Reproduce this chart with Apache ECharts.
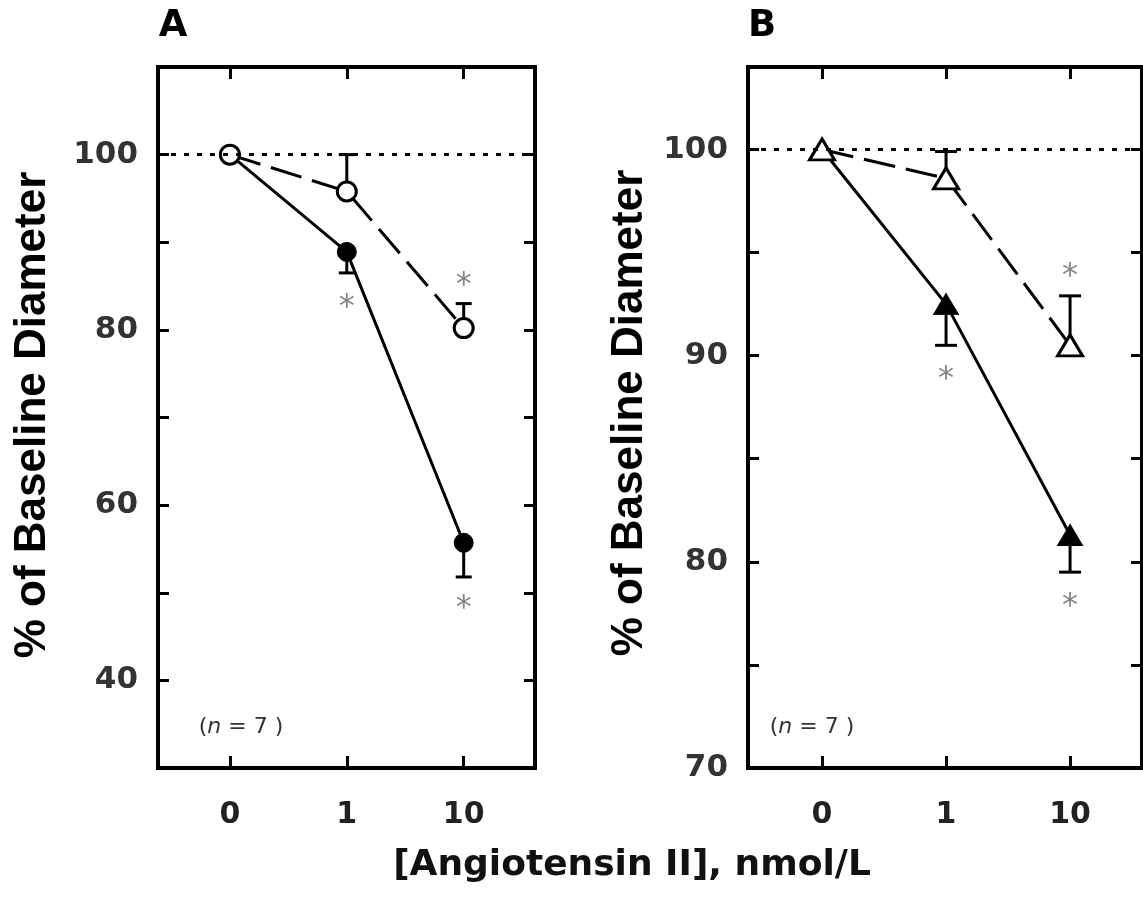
<!DOCTYPE html>
<html>
<head>
<meta charset="utf-8">
<script src="https://cdn.jsdelivr.net/npm/echarts@6/dist/echarts.min.js"></script>
<style>
  html, body { margin: 0; padding: 0; background: #fff; }
  #chart { width: 1143px; height: 898px; }
</style>
</head>
<body>
<div id="chart"></div>
<script>
// dose positions on the x axis and their labels
const doseIdx = [0, 1, 2];
const doseLabels = ['0', '1', '10'];

// panel A: filled circles (solid line), open circles (dashed line)
const aFilled = [100, 88.9, 55.7];
const aFilledErr = [null, 86.5, 51.8];
const aOpen = [100, 95.8, 80.2];
const aOpenErr = [null, 100, 83.0];
const aStars = [[1, 83.5], [2, 85.9], [2, 49.1]];
const aTicksY = [30, 40, 50, 60, 70, 80, 90, 100, 110];
const aLabelsY = [40, 60, 80, 100];

// panel B: filled triangles (solid line), open triangles (dashed line)
const bFilled = [100, 92.5, 81.3];
const bFilledErr = [null, 90.5, 79.5];
const bOpen = [100, 98.6, 90.5];
const bOpenErr = [null, 99.9, 92.9];
const bStars = [[1, 89.2], [2, 94.2], [2, 78.2]];
const bTicksY = [70, 75, 80, 85, 90, 95, 100];
const bLabelsY = [70, 80, 90, 100];

const FONT = 'DejaVu Sans';

const chart = echarts.init(document.getElementById('chart'));

function pts(vals) {
  return doseIdx.map((x, i) => [x, vals[i]]);
}
function errData(vals, ends) {
  return doseIdx.map((x, i) => [x, vals[i], ends[i]]).filter(d => d[2] != null);
}

// one-sided error bar: stem from mean to end, cap at end
function errRender(capW) {
  return function (params, api) {
    const p0 = api.coord([api.value(0), api.value(1)]);
    const p1 = api.coord([api.value(0), api.value(2)]);
    const st = { stroke: '#000', lineWidth: 3 };
    return {
      type: 'group',
      children: [
        { type: 'line', shape: { x1: p0[0], y1: p0[1], x2: p1[0], y2: p1[1] }, style: st },
        { type: 'line', shape: { x1: p1[0] - capW / 2, y1: p1[1], x2: p1[0] + capW / 2, y2: p1[1] }, style: st }
      ]
    };
  };
}

function xAxisDef(gridIndex, min, max, position, showLabel) {
  return {
    type: 'value', gridIndex, min, max, position,
    axisLine: { show: true, onZero: false, lineStyle: { color: '#000', width: 4, cap: 'square' } },
    axisTick: { show: true, inside: true, length: 12, lineStyle: { color: '#000', width: 3 }, customValues: doseIdx },
    axisLabel: {
      show: showLabel, customValues: doseIdx, margin: 32,
      fontFamily: FONT, fontWeight: 'bold', fontSize: 30, color: '#222',
      formatter: v => doseLabels[Math.round(v)]
    },
    splitLine: { show: false }
  };
}

function yAxisDef(gridIndex, min, max, ticks, labels, position, showLabel) {
  return {
    type: 'value', gridIndex, min, max, position,
    axisLine: { show: true, onZero: false, lineStyle: { color: '#000', width: 4, cap: 'square' } },
    axisTick: { show: true, inside: true, length: 11, lineStyle: { color: '#000', width: 3 }, customValues: ticks },
    axisLabel: {
      show: showLabel, customValues: labels, margin: 20,
      fontFamily: FONT, fontWeight: 'bold', fontSize: 31, color: '#333'
    },
    splitLine: { show: false }
  };
}

function starSeries(xi, yi, data) {
  return {
    type: 'scatter', xAxisIndex: xi, yAxisIndex: yi, data,
    symbolSize: 1, itemStyle: { color: 'rgba(0,0,0,0)' }, z: 5,
    label: {
      show: true, position: 'inside', formatter: '*', offset: [0, 8],
      fontFamily: FONT, fontSize: 32, color: '#666'
    }
  };
}

function panelSeries(xi, yi, filled, filledErr, open, openErr, stars, symbol, size, capW) {
  return [
    {
      type: 'custom', xAxisIndex: xi, yAxisIndex: yi, renderItem: errRender(capW),
      data: errData(filled, filledErr), z: 2
    },
    {
      type: 'custom', xAxisIndex: xi, yAxisIndex: yi, renderItem: errRender(capW),
      data: errData(open, openErr), z: 2
    },
    {
      type: 'line', xAxisIndex: xi, yAxisIndex: yi, data: pts(filled),
      symbol, symbolSize: size, showAllSymbol: true,
      lineStyle: { color: '#000', width: 3 },
      itemStyle: { color: '#000', borderColor: '#000', borderWidth: 1 },
      z: 3,
      markLine: {
        silent: true, symbol: 'none', label: { show: false },
        lineStyle: { color: '#000', width: 3, type: [5, 8] },
        data: [{ yAxis: 100 }]
      }
    },
    {
      type: 'line', xAxisIndex: xi, yAxisIndex: yi, data: pts(open),
      symbol, symbolSize: size, showAllSymbol: true,
      lineStyle: { color: '#000', width: 3, type: [32, 11] },
      itemStyle: { color: '#fff', borderColor: '#000', borderWidth: 3 },
      z: 4
    },
    starSeries(xi, yi, stars)
  ];
}

const nText = (x) => ({
  type: 'text', x, y: 727,
  style: {
    text: '{p|(}{n|n}{p| = 7 )}', textAlign: 'center', textVerticalAlign: 'middle',
    rich: { p: { font: '22px "DejaVu Sans"', fill: '#333' }, n: { font: 'italic 22px "DejaVu Sans"', fill: '#333' } }
  }
});

const option = {
  backgroundColor: '#fff',
  animation: false,
  grid: [
    { left: 158, top: 67, width: 377, height: 701 },
    { left: 748, top: 67, width: 394, height: 701 }
  ],
  xAxis: [
    xAxisDef(0, -0.615, 2.61, 'bottom', true),
    xAxisDef(0, -0.615, 2.61, 'top', false),
    xAxisDef(1, -0.597, 2.58, 'bottom', true),
    xAxisDef(1, -0.597, 2.58, 'top', false)
  ],
  yAxis: [
    yAxisDef(0, 30, 110, aTicksY, aLabelsY, 'left', true),
    yAxisDef(0, 30, 110, aTicksY, aLabelsY, 'right', false),
    yAxisDef(1, 70, 104, bTicksY, bLabelsY, 'left', true),
    yAxisDef(1, 70, 104, bTicksY, bLabelsY, 'right', false)
  ],
  series: [].concat(
    panelSeries(0, 0, aFilled, aFilledErr, aOpen, aOpenErr, aStars, 'circle', 19, 16),
    panelSeries(2, 2, bFilled, bFilledErr, bOpen, bOpenErr, bStars, 'triangle', [25, 21], 22)
  ),
  graphic: [
    { type: 'text', x: 173, y: 26, style: { text: 'A', font: 'bold 37px "DejaVu Sans"', fill: '#000', textAlign: 'center', textVerticalAlign: 'middle' } },
    { type: 'text', x: 762, y: 26, style: { text: 'B', font: 'bold 37px "DejaVu Sans"', fill: '#000', textAlign: 'center', textVerticalAlign: 'middle' } },
    { type: 'text', x: 33, y: 415, rotation: Math.PI / 2, style: { text: '% of Baseline Diameter', font: 'bold 44px "Liberation Sans"', fill: '#000', textAlign: 'center', textVerticalAlign: 'middle' } },
    { type: 'text', x: 630, y: 413, rotation: Math.PI / 2, style: { text: '% of Baseline Diameter', font: 'bold 44px "Liberation Sans"', fill: '#000', textAlign: 'center', textVerticalAlign: 'middle' } },
    { type: 'text', x: 632, y: 866, style: { text: '[Angiotensin II], nmol/L', font: 'bold 36px "DejaVu Sans"', fill: '#111', textAlign: 'center', textVerticalAlign: 'middle' } },
    nText(241),
    nText(812)
  ]
};

chart.setOption(option);
</script>
</body>
</html>
